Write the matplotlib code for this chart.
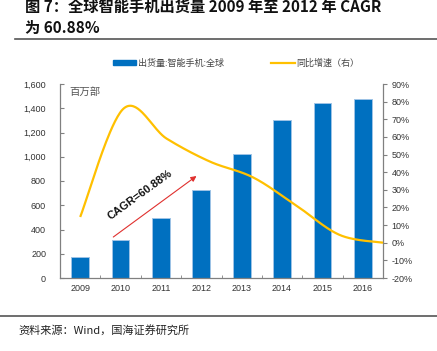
import numpy as np
import matplotlib
matplotlib.use("Agg")
import matplotlib.pyplot as plt
from matplotlib.lines import Line2D
from matplotlib.patches import Patch
from matplotlib.ticker import FuncFormatter, FixedLocator

plt.rcParams['font.family'] = ['Liberation Sans', 'Noto Sans CJK SC', 'DejaVu Sans']
CJK = ['Noto Sans CJK SC', 'DejaVu Sans']

years = ['2009', '2010', '2011', '2012', '2013', '2014', '2015', '2016']
shipments = [173, 313, 495, 726, 1023, 1303, 1443, 1476]
growth = [14.6, 76, 59, 46, 37, 21, 4.4, 0]
bar_label = '出货量:智能手机:全球'
line_label = '同比增速（右）'
title1 = '图 7：全球智能手机出货量 2009 年至 2012 年 CAGR'
title2 = '为 60.88%'
source = '资料来源：Wind，国海证券研究所'
unit = '百万部'
cagr_text = 'CAGR=60.88%'

fig = plt.figure(figsize=(4.37, 3.51), dpi=100)
ax = fig.add_axes([60/437, 1-278/351, (383-60)/437, (278-84)/351])

x = np.arange(len(years))
ax.bar(x, shipments, width=0.44, color='#0070C0', edgecolor='#9DC3E6', linewidth=0.7, zorder=2)
ax.set_xlim(-0.5, len(years) - 0.5)
ax.set_ylim(0, 1600)
ax.set_yticks(np.arange(0, 1601, 200))
ax.yaxis.set_major_formatter(FuncFormatter(lambda v, p: f'{int(v):,}'))
ax.set_xticks(x)
ax.set_xticklabels(years)
ax.xaxis.set_minor_locator(FixedLocator(np.arange(-0.5, len(years), 1.0)))
ax.tick_params(axis='x', which='major', length=0, labelsize=6.5, colors='#333333', pad=4)
ax.tick_params(axis='x', which='minor', length=2.5, direction='in', color='#808080')
ax.tick_params(axis='y', length=3, direction='in', labelsize=6.5, pad=10,
               color='#808080', labelcolor='#333333')
for s in ['top', 'right']:
    ax.spines[s].set_visible(False)
for s in ['left', 'bottom']:
    ax.spines[s].set_color('#808080')
    ax.spines[s].set_linewidth(0.9)

ax2 = ax.twinx()
ax2.set_ylim(-20, 90)
ax2.set_yticks(np.arange(-20, 91, 10))
ax2.yaxis.set_major_formatter(FuncFormatter(lambda v, p: f'{int(v)}%'))
ax2.tick_params(axis='y', length=3, direction='out', labelsize=6.5, color='#808080',
                labelcolor='#333333', pad=3)
for s in ['top', 'left', 'bottom']:
    ax2.spines[s].set_visible(False)
ax2.spines['right'].set_color('#808080')
ax2.spines['right'].set_linewidth(0.9)

# smooth line (Excel-style Catmull-Rom Bezier)
lx = np.arange(len(growth)) * (len(years) - 0.5) / (len(growth) - 1)
P = np.column_stack([lx, growth]).astype(float)
Pp = np.vstack([P[0], P, P[-1]])
t = np.linspace(0, 1, 40)[:, None]
segs = []
for i in range(len(P) - 1):
    p0, p1, p2, p3 = Pp[i], Pp[i+1], Pp[i+2], Pp[i+3]
    c1 = p1 + (p2 - p0) / 6
    c2 = p2 - (p3 - p1) / 6
    seg = ((1-t)**3)*p1 + 3*((1-t)**2)*t*c1 + 3*(1-t)*(t**2)*c2 + (t**3)*p2
    segs.append(seg if i == 0 else seg[1:])
curve = np.vstack(segs)
ax2.plot(curve[:, 0], curve[:, 1], color='#FFC000', linewidth=1.6, zorder=3, clip_on=False,
         solid_capstyle='butt')

# unit label
ax.text(0.03, 0.985, unit, transform=ax.transAxes, family=CJK, fontsize=7.5,
        color='#555555', va='top', ha='left')

# CAGR arrow and text
ax.annotate('', xy=(2.88, 841), xytext=(0.82, 338),
            arrowprops=dict(arrowstyle='-|>', color='#E0302E', lw=0.8,
                            mutation_scale=8, shrinkA=0, shrinkB=0), zorder=4)
ax.text(1.49, 685, cagr_text, rotation=36, fontsize=8, fontweight='bold',
        ha='center', va='center', color='#111111', rotation_mode='anchor')

# legend
handles = [Patch(facecolor='#0070C0', edgecolor='#0070C0'),
           Line2D([0], [0], color='#FFC000', lw=1.6)]
leg = fig.legend(handles, [bar_label, line_label], loc='center left',
                 bbox_to_anchor=(113/437, 1-63/351), ncol=2, frameon=False,
                 prop={'family': CJK, 'size': 6.5}, handlelength=2.6, handleheight=0.6,
                 columnspacing=5.2, handletextpad=0.2, borderpad=0, borderaxespad=0)
for txt in leg.get_texts():
    txt.set_color('#444444')

# title and rules
fig.text(25/437, 1-7/351, title1, family=CJK, fontsize=11, fontweight='bold',
         ha='left', va='center', color='#111111')
fig.text(25/437, 1-28/351, title2, family=CJK, fontsize=11, fontweight='bold',
         ha='left', va='center', color='#111111')
fig.add_artist(Line2D([15/437, 1], [1-39/351, 1-39/351], color='#555555', lw=1.2))
fig.add_artist(Line2D([0, 1], [1-316/351, 1-316/351], color='#555555', lw=1.2))
fig.text(18/437, 1-330/351, source, family=CJK, fontsize=8, ha='left', va='center',
         color='#222222')

fig.savefig('out.png', dpi=100)
